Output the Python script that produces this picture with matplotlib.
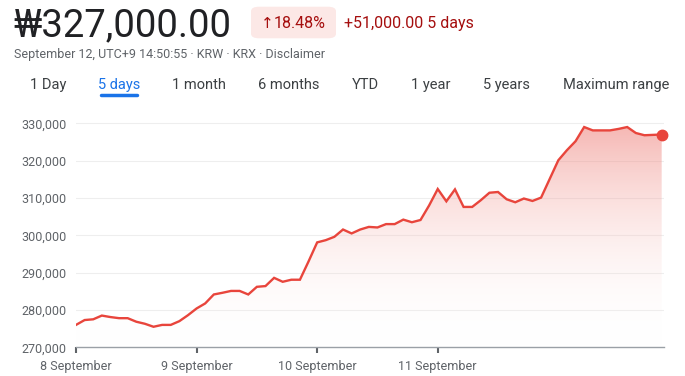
import numpy as np
import matplotlib
matplotlib.use("Agg")
import matplotlib.pyplot as plt
from matplotlib.patches import FancyBboxPatch, Polygon

plt.rcParams['font.family'] = ['Roboto', 'DejaVu Sans']

# цены за 5 дней (шаг 30 минут)
prices = [
    276000, 277300, 277500, 278500, 278100, 277800, 277800, 276850, 276300, 275500,
    276000, 276000, 277000, 278600, 280400, 281750, 284150, 284600, 285100, 285100,
    284150, 286200, 286400, 288600, 287550, 288100, 288100, 293000, 298100, 298700,
    299600, 301550, 300500, 301550, 302250, 302100, 303000, 303000, 304200, 303500,
    304100, 308000, 312400, 309100, 312300, 307600, 307600, 309400, 311400, 311600,
    309650, 308850, 309850, 309200, 310100, 315100, 320100, 322800, 325200, 329000,
    328100, 328100, 328100, 328500, 329000, 327400, 326800, 326900, 327000,
]
day_labels = ['8 September', '9 September', '10 September', '11 September']
day_starts = [0, 14, 28, 42]
y_ticks = [270000, 280000, 290000, 300000, 310000, 320000, 330000]
tabs = ['1 Day', '5 days', '1 month', '6 months', 'YTD', '1 year', '5 years', 'Maximum range']
tab_x = [30, 98, 172, 258, 352, 411, 483, 563]

red = '#e8453c'
W, H = 685, 376
fig = plt.figure(figsize=(W / 100, H / 100), dpi=100)

ymin, ymax = 270000, 331500
ax = fig.add_axes([76 / W, 28.7 / H, 588 / W, 229.6 / H])
x = np.arange(len(prices))
ax.set_xlim(0, len(prices) - 1 + 0.27)
ax.set_ylim(ymin, ymax)

# заливка градиентом
poly = Polygon(list(zip(x, prices)) + [(x[-1], ymin), (0, ymin)], closed=True,
               facecolor='none', edgecolor='none')
ax.add_patch(poly)
grad = np.linspace(0, 1, 256).reshape(-1, 1)
cmap = matplotlib.colors.LinearSegmentedColormap.from_list(
    'g', [(1, 1, 1, 0), (0.93, 0.45, 0.42, 0.52)])
im = ax.imshow(grad, extent=[0, x[-1], ymin, 330000], origin='lower',
               aspect='auto', cmap=cmap, zorder=1)
im.set_clip_path(poly)

ax.plot(x, prices, color=red, lw=1.7, zorder=3, solid_joinstyle='miter')
ax.plot(x[-1], prices[-1], 'o', color=red, ms=7.5, zorder=4, clip_on=False)

for v in y_ticks[1:]:
    ax.axhline(v, color='#eeeeee', lw=0.8, zorder=0)

for s in ['top', 'right', 'left']:
    ax.spines[s].set_visible(False)
ax.spines['bottom'].set_color('#9aa0a6')
ax.spines['bottom'].set_linewidth(1.0)

ax.set_yticks(y_ticks)
ax.set_yticklabels([f'{v:,}' for v in y_ticks])
ax.set_xticks(day_starts)
ax.set_xticklabels(day_labels)
ax.tick_params(axis='y', length=0, pad=7, labelsize=9, labelcolor='#5f6368')
ax.tick_params(axis='x', length=4, width=1.5, color='#5f6368', pad=5,
               labelsize=9, labelcolor='#5f6368')

# шапка
def px(xp, yp):
    return xp / W, 1 - yp / H

fig.text(*px(13, 36.7), '₩327,000.00', fontsize=27.5, color='#202124', va='baseline')
badge = FancyBboxPatch(px(251, 38.3), 85 / W, 31.6 / H,
                       boxstyle='round,pad=0,rounding_size=0.012',
                       transform=fig.transFigure, facecolor='#fce8e6',
                       edgecolor='none')
fig.patches.append(badge)
fig.text(*px(261, 28.3), '↑', fontsize=11, color='#a50e0e', va='baseline')
fig.text(*px(274, 28.3), '18.48%', fontsize=11.5, color='#a50e0e', va='baseline')
fig.text(*px(344, 28.3), '+51,000.00 5 days', fontsize=11.5, color='#a50e0e',
         va='baseline')
fig.text(*px(14, 58), 'September 12, UTC+9 14:50:55 · KRW · KRX · Disclaimer',
         fontsize=9, color='#5f6368', va='baseline')

for t, tx in zip(tabs, tab_x):
    c = '#1a73e8' if t == '5 days' else '#3c4043'
    fig.text(*px(tx, 89), t, fontsize=10.5, color=c, va='baseline')
fig.add_artist(plt.Line2D([101 / W, 137 / W], [1 - 94.5 / H] * 2, color='#1a73e8',
                          lw=2.5, solid_capstyle='round'))

fig.savefig('out.png', dpi=100)
